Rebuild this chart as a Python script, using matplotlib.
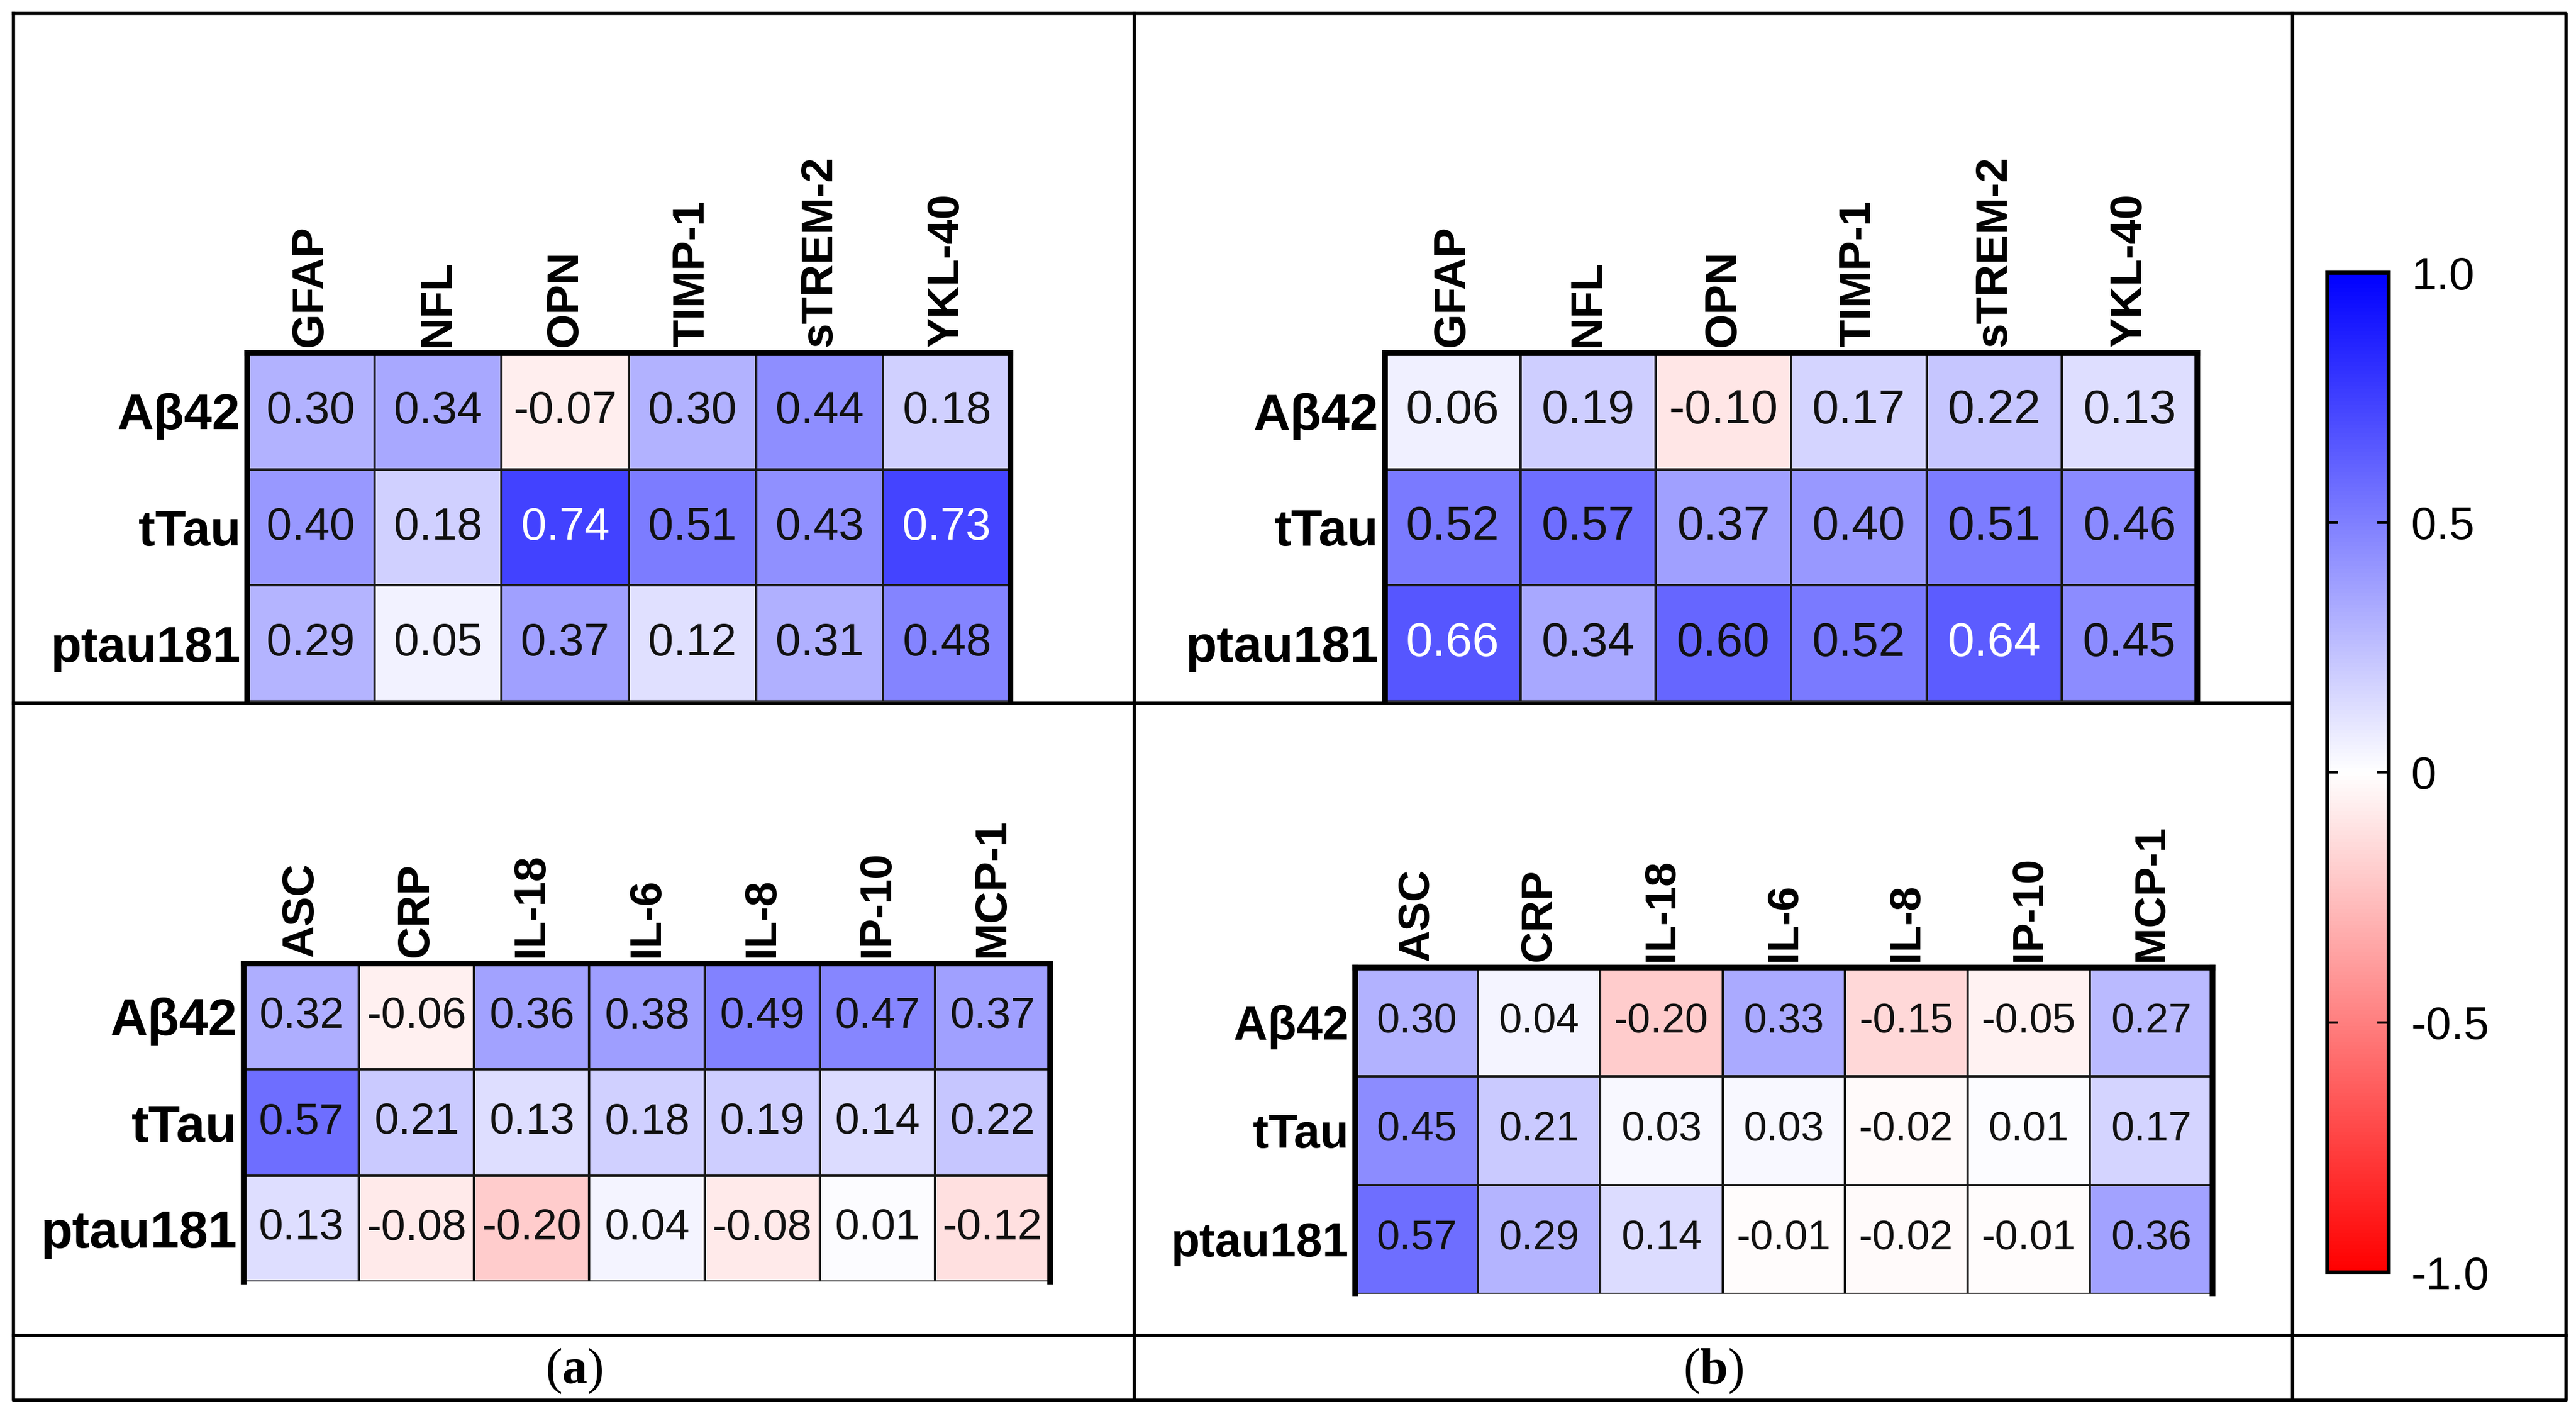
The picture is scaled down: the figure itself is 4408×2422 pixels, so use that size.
import numpy as np
import matplotlib
matplotlib.use("Agg")
import matplotlib.pyplot as plt
from matplotlib.colors import LinearSegmentedColormap, Normalize
from matplotlib.cm import ScalarMappable

# row / column names
rows = ["Aβ42", "tTau", "ptau181"]
glial_markers = ["GFAP", "NFL", "OPN", "TIMP-1", "sTREM-2", "YKL-40"]
inflam_markers = ["ASC", "CRP", "IL-18", "IL-6", "IL-8", "IP-10", "MCP-1"]

# (a) correlations
glial_a = [[0.30, 0.34, -0.07, 0.30, 0.44, 0.18],
           [0.40, 0.18, 0.74, 0.51, 0.43, 0.73],
           [0.29, 0.05, 0.37, 0.12, 0.31, 0.48]]
inflam_a = [[0.32, -0.06, 0.36, 0.38, 0.49, 0.47, 0.37],
            [0.57, 0.21, 0.13, 0.18, 0.19, 0.14, 0.22],
            [0.13, -0.08, -0.20, 0.04, -0.08, 0.01, -0.12]]

# (b) correlations
glial_b = [[0.06, 0.19, -0.10, 0.17, 0.22, 0.13],
           [0.52, 0.57, 0.37, 0.40, 0.51, 0.46],
           [0.66, 0.34, 0.60, 0.52, 0.64, 0.45]]
inflam_b = [[0.30, 0.04, -0.20, 0.33, -0.15, -0.05, 0.27],
            [0.45, 0.21, 0.03, 0.03, -0.02, 0.01, 0.17],
            [0.57, 0.29, 0.14, -0.01, -0.02, -0.01, 0.36]]

cbar_ticks = [-1.0, -0.5, 0.0, 0.5, 1.0]
cbar_labels = ["-1.0", "-0.5", "0", "0.5", "1.0"]

W, H, DPI = 4408, 2422, 100
plt.rcParams["font.family"] = ["Liberation Sans", "DejaVu Sans"]
plt.rcParams["mathtext.fontset"] = "custom"
plt.rcParams["mathtext.rm"] = "Liberation Serif"
plt.rcParams["mathtext.bf"] = "Liberation Serif:bold"

fig = plt.figure(figsize=(W / DPI, H / DPI), dpi=DPI)
cmap = LinearSegmentedColormap.from_list("rwb", ["#ff0000", "#ffffff", "#0000ff"])


def px_axes(x0, y0, x1, y1, **kw):
    return fig.add_axes([x0 / W, 1 - y1 / H, (x1 - x0) / W, (y1 - y0) / H], **kw)


def heatmap(box, values, cols, fs_val, fs_row, fs_col):
    ax = px_axes(*box)
    vals = np.array(values)
    nr, nc = vals.shape
    ax.pcolormesh(vals, cmap=cmap, vmin=-1, vmax=1,
                  edgecolors="#1a1a1a", linewidth=1.5)
    ax.set_xlim(0, nc)
    ax.set_ylim(nr, 0)
    for i in range(nr):
        for j in range(nc):
            v = vals[i, j]
            ax.text(j + 0.5, i + 0.5, f"{v:.2f}", ha="center", va="center",
                    fontsize=fs_val, color="white" if v > 0.62 else "#111111")
    ax.xaxis.tick_top()
    ax.set_xticks(np.arange(nc) + 0.5, cols, rotation=90, fontsize=fs_col,
                  fontweight="bold")
    ax.set_yticks(np.arange(nr) + 0.5, rows, fontsize=fs_row, fontweight="bold")
    ax.tick_params(axis="x", length=0, pad=8)
    ax.tick_params(axis="y", length=0, pad=8)
    for s in ["top", "left", "right"]:
        ax.spines[s].set_linewidth(7)
    ax.spines["bottom"].set_visible(False)
    return ax


heatmap((423, 604, 1729, 1200), glial_a, glial_markers, 56, 62, 55)
heatmap((2370, 604, 3760, 1200), glial_b, glial_markers, 59, 63, 55)
heatmap((417, 1648, 1797, 2192), inflam_a, inflam_markers, 54, 64, 55)
heatmap((2319, 1655, 3786, 2213), inflam_b, inflam_markers, 51, 58, 54)

# colour scale
cax = px_axes(3982, 466, 4087, 2176)
cb = fig.colorbar(ScalarMappable(Normalize(-1, 1), cmap), cax=cax)
cb.set_ticks(cbar_ticks, labels=cbar_labels)
cb.outline.set_linewidth(5)
cax.tick_params(direction="in", left=True, right=True, labelleft=False,
                labelright=True, length=14, width=3, pad=28, labelsize=56)

# table frame on top of everything
grid = px_axes(0, 0, W, H, zorder=5)
grid.set_xlim(0, W)
grid.set_ylim(H, 0)
grid.axis("off")
grid.patch.set_alpha(0)
lw = 4
grid.plot([23, 4391, 4391, 23, 23], [23, 23, 2395, 2395, 23], color="black", lw=lw)
grid.plot([1941, 1941], [23, 2395], color="black", lw=lw)
grid.plot([3923, 3923], [23, 2395], color="black", lw=lw)
grid.plot([23, 3923], [1203, 1203], color="black", lw=lw)
grid.plot([23, 4391], [2284, 2284], color="black", lw=lw)

fig.text(982 / W, 1 - 2345 / H, r"($\mathbf{a}$)", ha="center", va="center",
         fontsize=62, family="Liberation Serif")
fig.text(2932 / W, 1 - 2345 / H, r"($\mathbf{b}$)", ha="center", va="center",
         fontsize=62, family="Liberation Serif")

fig.savefig("out.png", dpi=DPI, facecolor="white")
